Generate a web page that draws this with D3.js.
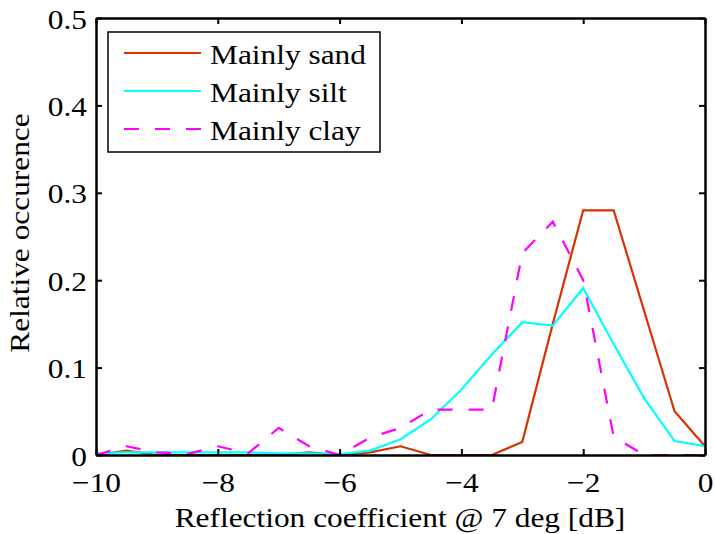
<!DOCTYPE html>
<meta charset="utf-8">
<script src="https://cdn.jsdelivr.net/npm/d3@7"></script>
<style>
body { margin: 0; background: #fff; }
</style>
<body>
<script>
// reflection coefficient bins (dB)
var xs = [-10, -9.5, -9, -8.5, -8, -7.5, -7, -6.5, -6, -5.5, -5, -4.5, -4, -3.5, -3, -2.5, -2, -1.5, -1, -0.5, 0];
var sand = [0, 0.005, 0, 0, 0, 0, 0, 0.003, 0, 0.003, 0.01, 0, 0, 0, 0.015, 0.15, 0.28, 0.28, 0.165, 0.05, 0.01];
var silt = [0.002, 0.003, 0.003, 0.003, 0.003, 0.003, 0.002, 0.002, 0.001, 0.005, 0.018, 0.041, 0.075, 0.115, 0.152, 0.148, 0.191, 0.127, 0.065, 0.016, 0.01];
var clay = [0, 0.01, 0.003, 0.001, 0.01, 0.002, 0.031, 0.01, 0, 0.02, 0.031, 0.052, 0.052, 0.052, 0.231, 0.267, 0.2, 0.021, 0, 0, 0];
var seriesNames = ["Mainly sand", "Mainly silt", "Mainly clay"];
var xTicks = [-10, -8, -6, -4, -2, 0];
var yTicks = [0, 0.1, 0.2, 0.3, 0.4, 0.5];

var W = 715, H = 534,
    margin = {top: 18, right: 10, bottom: 79, left: 96},
    width = W - margin.left - margin.right,
    height = H - margin.top - margin.bottom;

var serif = "'Liberation Serif', 'Times New Roman', serif";
var fontSize = "28px";

var svg = d3.select("body").append("svg")
  .attr("width", W)
  .attr("height", H);

var g = svg.append("g")
  .attr("transform", "translate(" + margin.left + "," + margin.top + ")");

var x = d3.scaleLinear().domain([-10, 0]).range([0, width]);
var y = d3.scaleLinear().domain([0, 0.5]).range([height, 0]);

var styles = [
  {color: "#d93200", dash: null},
  {color: "#00ffff", dash: null},
  {color: "#ff00ff", dash: "15,16"}
];
var allSeries = [sand, silt, clay];

// lines
var line = d3.line()
  .x(function(d) { return x(d[0]); })
  .y(function(d) { return y(d[1]); });

allSeries.forEach(function(vals, i) {
  g.append("path")
    .datum(xs.map(function(v, j) { return [v, vals[j]]; }))
    .attr("fill", "none")
    .attr("stroke", styles[i].color)
    .attr("stroke-width", 2.2)
    .attr("stroke-dasharray", styles[i].dash)
    .attr("d", line);
});

// axes (box with inward ticks)
var xAxis = g.append("g")
  .attr("transform", "translate(0," + height + ")")
  .call(d3.axisBottom(x).tickValues(xTicks).tickSizeInner(-6).tickSizeOuter(0)
    .tickFormat(function(d) { return d < 0 ? "\u2212" + Math.abs(d) : d; }));
xAxis.selectAll("text").attr("dy", 0).attr("y", 37);

var yAxis = g.append("g")
  .call(d3.axisLeft(y).tickValues(yTicks).tickSizeInner(-6).tickSizeOuter(0)
    .tickFormat(function(d) { return d === 0 ? "0" : d3.format(".1f")(d); }));
yAxis.selectAll("text").attr("x", -9).attr("dy", "0.36em");

g.append("g")
  .call(d3.axisTop(x).tickValues(xTicks).tickSizeInner(-6).tickSizeOuter(0).tickFormat(""));
g.append("g")
  .attr("transform", "translate(" + width + ",0)")
  .call(d3.axisRight(y).tickValues(yTicks).tickSizeInner(-6).tickSizeOuter(0).tickFormat(""));

g.selectAll(".domain").attr("stroke", "#000").attr("stroke-width", 2.5);
g.selectAll(".tick line").attr("stroke", "#000").attr("stroke-width", 2);

// axis labels
svg.append("text")
  .attr("x", 400)
  .attr("y", 527)
  .attr("text-anchor", "middle")
  .text("Reflection coefficient @ 7 deg [dB]");

svg.append("text")
  .attr("transform", "translate(29,233) rotate(-90)")
  .attr("text-anchor", "middle")
  .text("Relative occurence");

// legend
var legend = svg.append("g").attr("transform", "translate(108,32)");
legend.append("rect")
  .attr("width", 272)
  .attr("height", 120)
  .attr("fill", "#fff")
  .attr("stroke", "#000")
  .attr("stroke-width", 1.5);

seriesNames.forEach(function(name, i) {
  var ly = 21 + i * 38;
  legend.append("line")
    .attr("x1", 16).attr("x2", 93)
    .attr("y1", ly).attr("y2", ly)
    .attr("stroke", styles[i].color)
    .attr("stroke-width", 2.2)
    .attr("stroke-dasharray", styles[i].dash);
  legend.append("text")
    .attr("x", 102)
    .attr("y", ly)
    .attr("dy", "0.38em")
    .text(name);
});

// same serif face everywhere, a bit wider like the original export
svg.selectAll("g").attr("font-family", null).attr("font-size", null);
svg.selectAll("text")
  .style("font-family", serif)
  .style("font-size", fontSize)
  .attr("fill", "#000")
  .each(function() {
    var len = this.getComputedTextLength();
    d3.select(this)
      .attr("textLength", len * 1.12)
      .attr("lengthAdjust", "spacingAndGlyphs");
  });
</script>
</body>
